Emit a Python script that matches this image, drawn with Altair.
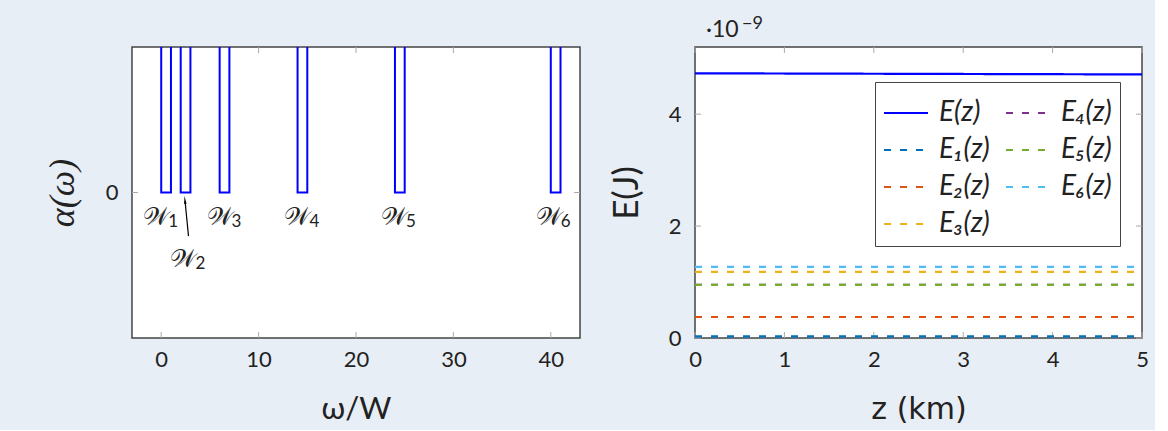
import altair as alt
import pandas as pd

# ---------------- data: left panel (windows) ----------------
win_names = ["W1", "W2", "W3", "W4", "W5", "W6"]
win_start = [0, 2, 6, 14, 24, 40]
win_end = [1, 3, 7, 15, 25, 41]
label_main = ["𝒲", "𝒲", "𝒲", "𝒲", "𝒲", "𝒲"]
label_sub = ["1", "2", "3", "4", "5", "6"]
label_x = [0.0, 2.8, 6.5, 14.5, 24.4, 40.3]
label_y = [-0.17, -0.46, -0.17, -0.17, -0.17, -0.17]
arrow_x = [2.8, 2.45]
arrow_y = [-0.30, -0.06]
omega_ticks = [0, 10, 20, 30, 40]
alpha_ticks = [0]
omega_domain = [-3, 43]
alpha_domain = [-1, 1]

# ---------------- data: right panel (energies) ----------------
series = ["E(z)", "E₁(z)", "E₂(z)", "E₃(z)", "E₄(z)", "E₅(z)", "E₆(z)"]
E_at_0 = [4.73, 0.03, 0.375, 1.18, 0.95, 0.95, 1.27]
E_at_5 = [4.71, 0.03, 0.375, 1.18, 0.95, 0.95, 1.27]
z_ends = [0, 5]
colors = ["#0000FF", "#0072BD", "#D95319", "#EDB120", "#7E2F8E", "#77AC30", "#4DBEEE"]
z_ticks = [0, 1, 2, 3, 4, 5]
E_ticks = [0, 2, 4]
z_domain = [0, 5]
E_domain = [0, 5.2]

W, H = 448, 291
W2 = 447
BG = "#E8EEF5"
FONT = "Lato"
TXT = "#222222"
TICK = "#AAAAAA"

# ---------------- left panel ----------------
rows = []
for n, a, b in zip(win_names, win_start, win_end):
    top = alpha_domain[1]
    rows += [
        {"win": n, "i": 0, "w": a, "a": top},
        {"win": n, "i": 1, "w": a, "a": 0},
        {"win": n, "i": 2, "w": b, "a": 0},
        {"win": n, "i": 3, "w": b, "a": top},
    ]
win_df = pd.DataFrame(rows)

xs = alt.Scale(domain=omega_domain, nice=False, zero=False)
ys = alt.Scale(domain=alpha_domain, nice=False, zero=False)

lines = alt.Chart(win_df).mark_line(color="#0000FF", strokeWidth=2, clip=True).encode(
    x=alt.X("w:Q", scale=xs, axis=alt.Axis(values=omega_ticks, format="d", title="ω/W")),
    y=alt.Y("a:Q", scale=ys, axis=alt.Axis(values=alpha_ticks, format="d", title="α(ω)",
                                           titleFont="Liberation Serif", titleFontStyle="italic",
                                           titleFontSize=36)),
    detail="win:N",
    order="i:O",
)

xt_df = pd.DataFrame({"t": omega_ticks})
yt_df = pd.DataFrame({"t": alpha_ticks})
lt_bot = alt.Chart(xt_df).mark_rule(color=TICK, strokeWidth=1).encode(
    x=alt.X("t:Q", scale=xs), y=alt.value(H), y2=alt.value(H - 6))
lt_top = alt.Chart(xt_df).mark_rule(color=TICK, strokeWidth=1).encode(
    x=alt.X("t:Q", scale=xs), y=alt.value(0), y2=alt.value(6))
lt_left = alt.Chart(yt_df).mark_rule(color=TICK, strokeWidth=1).encode(
    y=alt.Y("t:Q", scale=ys), x=alt.value(0), x2=alt.value(6))
lt_right = alt.Chart(yt_df).mark_rule(color=TICK, strokeWidth=1).encode(
    y=alt.Y("t:Q", scale=ys), x=alt.value(W), x2=alt.value(W - 6))

lab_df = pd.DataFrame({"m": label_main, "s": label_sub, "x": label_x, "y": label_y})
labels_main = alt.Chart(lab_df).mark_text(font="DejaVu Serif", fontSize=25, color=TXT, dx=-5).encode(
    x=alt.X("x:Q", scale=xs), y=alt.Y("y:Q", scale=ys), text="m:N")
labels_sub = alt.Chart(lab_df).mark_text(font=FONT, fontSize=17, color=TXT, dx=12, dy=5).encode(
    x=alt.X("x:Q", scale=xs), y=alt.Y("y:Q", scale=ys), text="s:N")

arr_df = pd.DataFrame({"x": arrow_x, "y": arrow_y, "k": [0, 1]})
arrow_line = alt.Chart(arr_df).mark_line(color="black", strokeWidth=1.2).encode(
    x=alt.X("x:Q", scale=xs), y=alt.Y("y:Q", scale=ys), order="k:O")
arrow_head = alt.Chart(arr_df.iloc[[1]]).mark_point(
    shape="wedge", filled=True, color="black", size=90, angle=354, opacity=1).encode(
    x=alt.X("x:Q", scale=xs), y=alt.Y("y:Q", scale=ys))

left = alt.layer(lt_bot, lt_top, lt_left, lt_right, lines, labels_main, labels_sub,
                 arrow_line, arrow_head).properties(width=W, height=H)

# ---------------- right panel ----------------
erows = []
for s, e0, e5 in zip(series, E_at_0, E_at_5):
    erows.append({"s": s, "z": z_ends[0], "E": e0})
    erows.append({"s": s, "z": z_ends[1], "E": e5})
e_df = pd.DataFrame(erows)

zs = alt.Scale(domain=z_domain, nice=False, zero=False)
es = alt.Scale(domain=E_domain, nice=False, zero=False)
dashes = [[1, 0] if s == "E(z)" else [7, 9] for s in series]
leg = alt.Legend(title=None, orient="none", legendX=743, legendY=35, columns=2)

energy = alt.Chart(e_df).mark_line(strokeWidth=2.2, clip=True).encode(
    x=alt.X("z:Q", scale=zs, axis=alt.Axis(values=z_ticks, format="d", title="z (km)",
                                           titleFont="DejaVu Sans", titleFontSize=30)),
    y=alt.Y("E:Q", scale=es, axis=alt.Axis(values=E_ticks, format="d", title="E(J)",
                                           titleFontSize=35)),
    color=alt.Color("s:N", scale=alt.Scale(domain=series, range=colors), legend=leg),
    strokeDash=alt.StrokeDash("s:N", scale=alt.Scale(domain=series, range=dashes), legend=leg),
    detail="s:N",
)

zt_df = pd.DataFrame({"t": z_ticks})
et_df = pd.DataFrame({"t": E_ticks})
rt_bot = alt.Chart(zt_df).mark_rule(color=TICK, strokeWidth=1).encode(
    x=alt.X("t:Q", scale=zs), y=alt.value(H), y2=alt.value(H - 6))
rt_top = alt.Chart(zt_df).mark_rule(color=TICK, strokeWidth=1).encode(
    x=alt.X("t:Q", scale=zs), y=alt.value(0), y2=alt.value(6))
rt_left = alt.Chart(et_df).mark_rule(color=TICK, strokeWidth=1).encode(
    y=alt.Y("t:Q", scale=es), x=alt.value(0), x2=alt.value(6))
rt_right = alt.Chart(et_df).mark_rule(color=TICK, strokeWidth=1).encode(
    y=alt.Y("t:Q", scale=es), x=alt.value(W2), x2=alt.value(W2 - 6))

exp_base = alt.Chart(pd.DataFrame({"t": ["·10"]})).mark_text(
    font=FONT, fontSize=23, color=TXT, align="left", baseline="alphabetic").encode(
    text="t:N", x=alt.value(11), y=alt.value(-10))
exp_sup = alt.Chart(pd.DataFrame({"t": ["−9"]})).mark_text(
    font=FONT, fontSize=18, color=TXT, align="left", baseline="alphabetic").encode(
    text="t:N", x=alt.value(47), y=alt.value(-18))

right = alt.layer(rt_bot, rt_top, rt_left, rt_right, energy, exp_base, exp_sup).properties(
    width=W2, height=H)

chart = alt.hconcat(left, right, spacing=26).properties(
    background=BG,
    padding={"left": 43, "top": 14, "right": 5, "bottom": 5},
).configure_view(
    stroke="#444444", strokeWidth=1.5, fill="white"
).configure_axis(
    domain=False, grid=False, ticks=False, labelFlush=False,
    labelFont=FONT, labelFontSize=22, labelColor=TXT, labelPadding=14,
    titleFont=FONT, titleFontSize=31, titleFontWeight="normal", titleColor=TXT,
).configure_axisX(titlePadding=24, labelPadding=11).configure_axisY(titlePadding=24).configure_legend(
    fillColor="white", strokeColor="#444444", strokeWidth=1, padding=8,
    symbolType="stroke", symbolSize=1936, symbolStrokeWidth=2,
    labelFont=FONT, labelFontStyle="italic", labelFontSize=28, labelColor=TXT,
    rowPadding=-9, columnPadding=12, labelOffset=10,
)

chart.save("out.html", embed_options={"renderer": "svg", "actions": False})
